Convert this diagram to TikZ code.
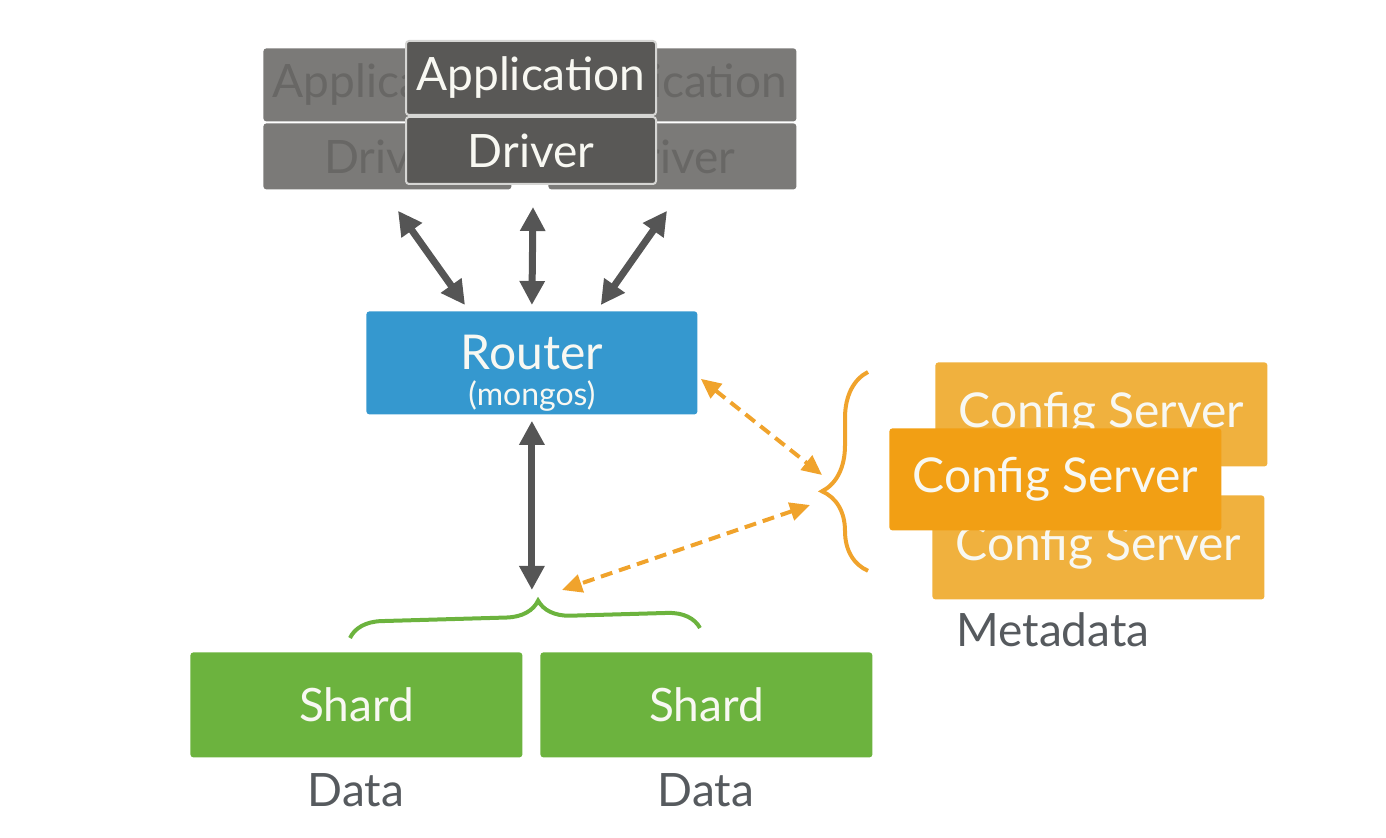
\documentclass[tikz,border=0pt]{standalone}
\usepackage{fontspec}
\setmainfont{Lato}
\usetikzlibrary{arrows.meta,calc,decorations.pathreplacing}
\definecolor{appback}{HTML}{7B7A78}
\definecolor{appbacktext}{HTML}{686765}
\definecolor{appfront}{HTML}{595856}
\definecolor{appline}{HTML}{D6D6D4}
\definecolor{routerblue}{HTML}{3598CF}
\definecolor{cfgback}{HTML}{F0B13E}
\definecolor{cfgfront}{HTML}{F29F14}
\definecolor{cfgline}{HTML}{F0A32C}
\definecolor{shardgreen}{HTML}{6CB33E}
\definecolor{labelgray}{HTML}{565A5E}
\definecolor{linkgray}{HTML}{555555}
\definecolor{boxtext}{HTML}{F8F8F2}
\begin{document}
\begin{tikzpicture}[x=0.5pt, y=-0.5pt,
    big/.style={font=\fontsize{23}{25}\selectfont},
    box/.style={anchor=north west, inner sep=0pt, rounded corners=1.5pt, text=boxtext, big},
    appbox/.style={box, fill=appback, text=appbacktext, minimum width=124pt},
    frontbox/.style={box, fill=appfront, draw=appline, line width=1pt, minimum width=125pt},
    cfgbox/.style={box, minimum width=166pt, minimum height=52pt, font=\fontsize{24}{26}\selectfont},
    shardbox/.style={box, fill=shardgreen, minimum width=166pt, minimum height=52.5pt},
    caption/.style={text=labelgray, big},
    link/.style={draw=linkgray, line width=3.5pt, {Triangle[length=12pt,width=12pt]}-{Triangle[length=12pt,width=12pt]}},
    cfglink/.style={draw=cfgline, line width=2pt, dash pattern=on 6pt off 3.5pt, {Triangle[length=10pt,width=9pt]}-{Triangle[length=10pt,width=9pt]}}]
  \useasboundingbox (0,0) rectangle (1386,838);
  % application / driver stack
  \node[appbox, minimum height=36.5pt] (appLtop) at (263,48) {Application};
  \node[appbox, minimum height=33pt] (appL) at (263,123) {Driver};
  \node[appbox, minimum height=36.5pt] (appRtop) at (548,48) {Application};
  \node[appbox, minimum height=33pt] (appR) at (548,123) {Driver};
  \node[frontbox, minimum height=37pt] (appFtop) at (405,40) {Application};
  \node[frontbox, minimum height=33.5pt] (appF) at (405,116) {Driver};
  % router
  \node[box, fill=routerblue, minimum width=165.5pt, minimum height=51.5pt] (router) at (366,311) {};
  \node[text=boxtext, align=center, font=\fontsize{24}{26}\selectfont] (routerlabel) at ($(router.center)+(0,10)$)
    {Router\\[-8pt]{\fontsize{16}{17}\selectfont (mongos)}};
  % config servers
  \node[cfgbox, fill=cfgback] (cfgT) at (935,362) {Config Server};
  \node[cfgbox, fill=cfgback] (cfgB) at (932,495) {Config Server};
  \node[cfgbox, fill=cfgfront, minimum height=51pt] (cfgF) at (889,428) {Config Server};
  \node[caption] (meta) at (1053,630) {Metadata};
  % shards
  \node[shardbox] (shardL) at (190,652) {Shard};
  \node[shardbox] (shardR) at (540,652) {Shard};
  \node[caption] (dataL) at (356,790) {Data};
  \node[caption] (dataR) at (706,790) {Data};
  % braces
  \coordinate (cfgtip) at (824,490);
  \coordinate (shardtip) at (538,600);
  \draw[cfgline, line width=2pt, decorate, decoration={brace, amplitude=23pt, aspect=0.4}]
    ($(cfgB.south west)+(-64,-29)$) -- ($(cfgT.north west)+(-67,10)$);
  \draw[shardgreen, line width=2pt, decorate, decoration={brace, amplitude=16pt, aspect=0.54}]
    ($(shardL.north west)+(160,-14)$) -- ($(shardR.north west)+(160,-24)$);
  % connectors
  \draw[link] ($(appL.south west)+(135,21)$) -- ($(router.north west)+(99,-6)$);
  \draw[link] ($(appF.south)+(2,22)$) -- ($(router.north)+(0,-6)$);
  \draw[link] ($(appR.south west)+(119,21)$) -- ($(router.north east)+(-97,-6)$);
  \draw[link] ($(router.south)+(0,6)$) -- ($(router.south |- shardtip)+(0,-10)$);
  \draw[cfglink] ($(router.south east)+(3,-36)$) -- ($(cfgtip)+(-2,-15)$);
  \draw[cfglink] ($(cfgtip)+(-14,15)$) -- ($(shardtip)+(24,-10)$);
\end{tikzpicture}
\end{document}
